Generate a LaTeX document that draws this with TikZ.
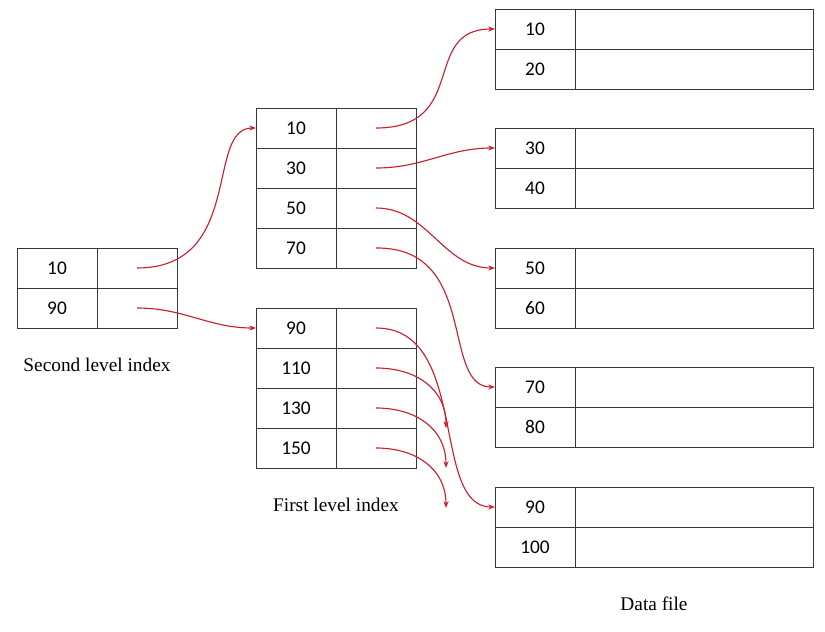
\documentclass[tikz,border=0pt]{standalone}
\usepackage{fontspec}
\setmainfont{Liberation Serif}
\newfontfamily\numfont{Carlito}
\usetikzlibrary{arrows.meta,positioning}

\definecolor{ptrred}{RGB}{200,32,48}
\tikzset{
	keycell/.style={draw=black!78,line width=0.7pt,minimum width=60pt,minimum height=30pt,
		inner sep=0pt,outer sep=0pt,font=\numfont\fontsize{14.5}{16}\selectfont},
	ptrcell/.style={keycell},
	rowcell/.style={keycell,minimum width=178.5pt},
	ptr/.style={draw=ptrred,line width=0.85pt,-{Stealth[length=5pt,width=3.8pt]}},
	caption/.style={font=\fontsize{14.5}{17}\selectfont}
}

\begin{document}
\begin{tikzpicture}[x=0.75pt,y=-0.75pt]
		\useasboundingbox (0,0) rectangle (825,632);
		\foreach \k/\v in {0/10,1/90}{
			\node[keycell] (s\k) at (57,268+40*\k) {\v};
			\node[ptrcell,right=0pt of s\k] (sp\k) {};
			}
		\foreach \k/\v in {0/10,1/30,2/50,3/70}{
			\node[keycell] (f\k) at (296,128+40*\k) {\v};
			\node[ptrcell,right=0pt of f\k] (fp\k) {};
			}
		\foreach \k/\v in {4/90,5/110,6/130,7/150}{
			\node[keycell] (f\k) at (296,328+40*\k-160) {\v};
			\node[ptrcell,right=0pt of f\k] (fp\k) {};
			}
		\foreach \k/\y/\a/\b in {0/29/10/20,1/148/30/40,2/268/50/60,3/387/70/80,4/507/90/100}{
			\node[keycell] (d\k) at (535,\y) {\a};
			\node[rowcell,right=0pt of d\k] (dp\k) {};
			\node[keycell,below=0pt of d\k] (e\k) {\b};
			\node[rowcell,right=0pt of e\k] (ep\k) {};
			}
		\node[caption] (second) at (97,365) {Second level index};
		\node[caption] (first) at (336,505) {First level index};
		\node[caption] (data) at (654,604) {Data file};
		\coordinate (x5) at (446,428);
		\coordinate (x6) at (446,468);
		\coordinate (x7) at (446,508);
		\draw[ptr] (sp0.center) .. controls (245,268) and (205,128) .. (f0.west);
		\draw[ptr] (sp1.center) to[out=0,in=180] (f4.west);
		\draw[ptr] (fp0.center) .. controls (470,128) and (420,29) .. (d0.west);
		\draw[ptr] (fp1.center) to[out=0,in=180] (d1.west);
		\draw[ptr] (fp2.center) to[out=0,in=180] (d2.west);
		\draw[ptr] (fp3.center) .. controls (480,247) and (440,387) .. (d3.west);
		\draw[ptr] (fp4.center) .. controls (470,328) and (430,507) .. (d4.west);
		\foreach \k in {5,6,7}{
			\draw[ptr] (fp\k.center) to[out=0,in=90,looseness=1.1] (x\k);
			}
\end{tikzpicture}
\end{document}
